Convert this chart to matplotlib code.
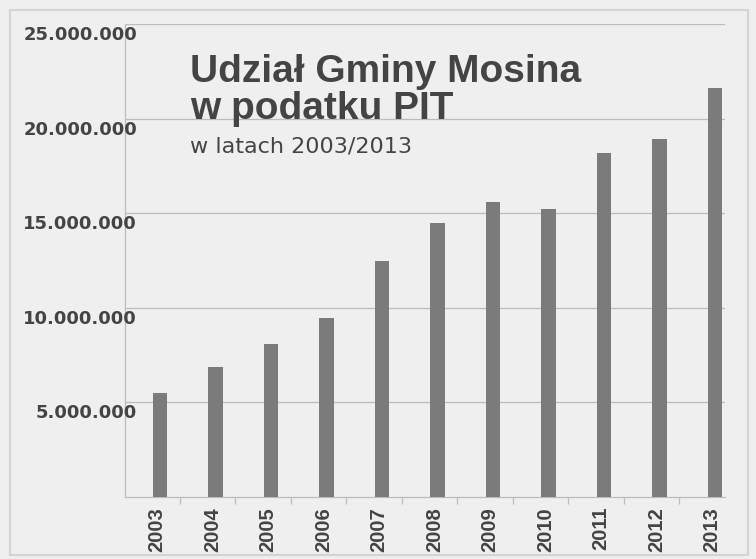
import matplotlib.pyplot as plt
from matplotlib.patches import Rectangle

# Udział Gminy Mosina w podatku PIT (zł)
years = ['2003', '2004', '2005', '2006', '2007', '2008',
         '2009', '2010', '2011', '2012', '2013']
pit_share = [5500000, 6850000, 8100000, 9450000, 12500000, 14500000,
             15600000, 15200000, 18200000, 18900000, 21600000]
y_ticks = [5000000, 10000000, 15000000, 20000000, 25000000]
y_tick_labels = ['5.000.000', '10.000.000', '15.000.000', '20.000.000', '25.000.000']

paper = '#efefef'
text_col = '#444444'
bar_col = '#7b7b7b'
grid_col = '#bcbcbc'

fig = plt.figure(figsize=(7.56, 5.59), dpi=100, facecolor=paper)

# frame of the printed graphic
fig.patches.append(Rectangle((10 / 756, 4 / 559), 738 / 756, 545 / 559,
                             transform=fig.transFigure, fill=False,
                             edgecolor='#d4d4d4', linewidth=1.5))

ax = fig.add_axes([125 / 756, 62 / 559, 600 / 756, 473 / 559])
ax.set_facecolor(paper)

x = list(range(len(years)))
ax.bar(x, pit_share, width=0.26, color=bar_col, zorder=3)

ax.set_xlim(-0.63, 10.18)
ax.set_ylim(0, 25000000)

for v in y_ticks:
    ax.axhline(v, color=grid_col, linewidth=0.9, zorder=1)

for s in ['top', 'right']:
    ax.spines[s].set_visible(False)
for s in ['left', 'bottom']:
    ax.spines[s].set_color(grid_col)
    ax.spines[s].set_linewidth(0.9)

ax.set_yticks([])
ax.set_xticks([i + 0.36 for i in x[:-1]])
ax.set_xticklabels([])
ax.tick_params(axis='x', length=5, width=0.9, color=grid_col)

# y labels sit a bit below their gridlines and overlap the axis line
for v, lab in zip(y_ticks, y_tick_labels):
    ax.annotate(lab, xy=(0, v), xycoords=('axes fraction', 'data'),
                xytext=(12, -11), textcoords='offset pixels',
                ha='right', va='center', fontsize=13, fontweight='bold',
                color=text_col, family='DejaVu Sans', zorder=4)

# year labels under bars
for i, yr in zip(x, years):
    ax.annotate(yr, xy=(i, 0), xycoords=('data', 'axes fraction'),
                xytext=(-3, -10), textcoords='offset pixels',
                ha='center', va='top', rotation=90, fontsize=14.5,
                fontweight='bold', color=text_col, family='Liberation Sans')

fig.text(190 / 756, 1 - 82 / 559, 'Udział Gminy Mosina', fontsize=28,
         fontweight='bold', color=text_col, family='Liberation Sans',
         va='baseline', ha='left')
fig.text(190 / 756, 1 - 119 / 559, 'w podatku PIT', fontsize=28,
         fontweight='bold', color=text_col, family='Liberation Sans',
         va='baseline', ha='left')
fig.text(190 / 756, 1 - 153 / 559, 'w latach 2003/2013', fontsize=16,
         color=text_col, family='DejaVu Sans', va='baseline', ha='left')

plt.savefig('out.png', dpi=100, facecolor=paper)
